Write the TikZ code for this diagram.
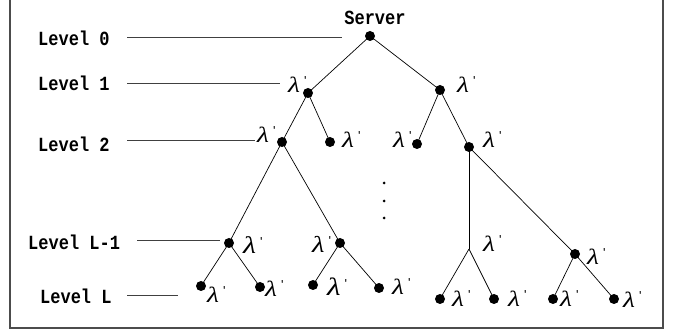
\documentclass[tikz,border=0pt]{standalone}
\usepackage{fontspec}
\newfontfamily\monob{Liberation Mono}
\newfontfamily\lamserif{Liberation Serif}
\newfontfamily\lamsans{Liberation Sans}
\newcommand\lampr[1][22]{\scalebox{1.25}[1]{\fontsize{#1}{#1}\selectfont\lamserif\itshape λ}\hspace{4pt}\raisebox{7.5pt}{\lamsans\upshape\fontsize{13}{13}\selectfont\textquotesingle}}
\newcommand\lvltext[1]{\scalebox{1}[1.18]{#1}}
\begin{document}
\begin{tikzpicture}[x=1pt,y=-1pt,
  dot/.style={circle,fill=black,inner sep=0pt,minimum size=10pt},
  edge/.style={draw=black,line width=0.7pt},
  lvl/.style={font=\monob\bfseries\fontsize{17}{17}\selectfont,anchor=west,inner sep=0pt},
  lvlline/.style={draw=black!75,line width=0.9pt},
  lam/.style={anchor=base west,inner sep=0pt},
  frame/.style={draw=black!70,line width=1.2pt}]
\useasboundingbox (0,0) rectangle (678,331);
% frame (top open)
\draw[frame] (10,-2) -- (10,328) -- (663,328) -- (663,-2);
% tree nodes
\node[dot] (S) at (370,36) {};
\node[font=\monob\bfseries\fontsize{17}{17}\selectfont,inner sep=0pt] (srv) at (375,18) {\lvltext{Server}};
\node[dot] (n1) at (308,93) {};
\node[dot] (n2) at (440,90) {};
\node[dot] (A) at (282,142) {};
\node[dot] (B) at (330,142) {};
\node[dot] (C) at (417,144) {};
\node[dot] (D) at (469,147) {};
\node[dot] (E1) at (229,243) {};
\node[dot] (E2) at (340,243) {};
\coordinate (V) at (469,249);
\node[dot] (F) at (575,254) {};
\node[dot] (a1) at (201,286) {};
\node[dot] (a2) at (260,287) {};
\node[dot] (b1) at (313,285) {};
\node[dot] (b2) at (379,288) {};
\node[dot] (c1) at (440,299) {};
\node[dot] (c2) at (494,299) {};
\node[dot] (f1) at (553,299) {};
\node[dot] (f2) at (614,299) {};
% edges
\draw[edge] (S.center) -- (n1.center);
\draw[edge] (S.center) -- (n2.center);
\draw[edge] (n1.center) -- (A.center);
\draw[edge] (n1.center) -- (B.center);
\draw[edge] (n2.center) -- (C.center);
\draw[edge] (n2.center) -- (D.center);
\draw[edge] (A.center) -- (E1.center);
\draw[edge] (A.center) -- (E2.center);
\draw[edge] (D.center) -- (V);
\draw[edge] (D.center) -- (F.center);
\draw[edge] (E1.center) -- (a1.center);
\draw[edge] (E1.center) -- (a2.center);
\draw[edge] (E2.center) -- (b1.center);
\draw[edge] (E2.center) -- (b2.center);
\draw[edge] (V) -- (c1.center);
\draw[edge] (V) -- (c2.center);
\draw[edge] (F.center) -- (f1.center);
\draw[edge] (F.center) -- (f2.center);
% vertical ellipsis
\fill (384,183) circle (1.5) (384,201) circle (1.5) (384,218) circle (1.5);
% lambda labels
\node[lam] (l1) at (288,93) {\lampr};
\node[lam] (l2) at (457,93) {\lampr};
\node[lam] (l3) at (257,143) {\lampr};
\node[lam] (l4) at (342,148) {\lampr};
\node[lam] (l5) at (393,148) {\lampr};
\node[lam] (l6) at (483,148) {\lampr};
\node[lam] (l7) at (243,254) {\lampr[24]};
\node[lam] (l8) at (312,253) {\lampr[23]};
\node[lam] (l9) at (483,252) {\lampr};
\node[lam] (l10) at (587,265) {\lampr};
\node[lam] (l11) at (207,303) {\lampr};
\node[lam] (l12) at (265,297) {\lampr};
\node[lam] (l13) at (327,296) {\lampr[25]};
\node[lam] (l14) at (392,295) {\lampr};
\node[lam] (l15) at (452,307) {\lampr};
\node[lam] (l16) at (508,307) {\lampr};
\node[lam] (l17) at (560,307) {\lampr};
\node[lam] (l18) at (623,308) {\lampr};
% level labels
\node[lvl] (lv0) at (38,38) {\lvltext{Level 0}};
\node[lvl] (lv1) at (38,83) {\lvltext{Level 1}};
\node[lvl] (lv2) at (38,144) {\lvltext{Level 2}};
\node[lvl] (lv3) at (28,242) {\lvltext{Level L-1}};
\node[lvl] (lv4) at (40,296) {\lvltext{Level L}};
\coordinate (s0) at (127,37);  \coordinate (e0) at (342,37);
\coordinate (s1) at (127,83);  \coordinate (e1) at (280,83);
\coordinate (s2) at (127,140); \coordinate (e2) at (255,140);
\coordinate (s3) at (137,240); \coordinate (e3) at (220,240);
\coordinate (s4) at (127,295); \coordinate (e4) at (178,295);
\draw[lvlline] (s0) -- (e0);
\draw[lvlline] (s1) -- (e1);
\draw[lvlline] (s2) -- (e2);
\draw[lvlline] (s3) -- (e3);
\draw[lvlline] (s4) -- (e4);
\end{tikzpicture}
\end{document}
